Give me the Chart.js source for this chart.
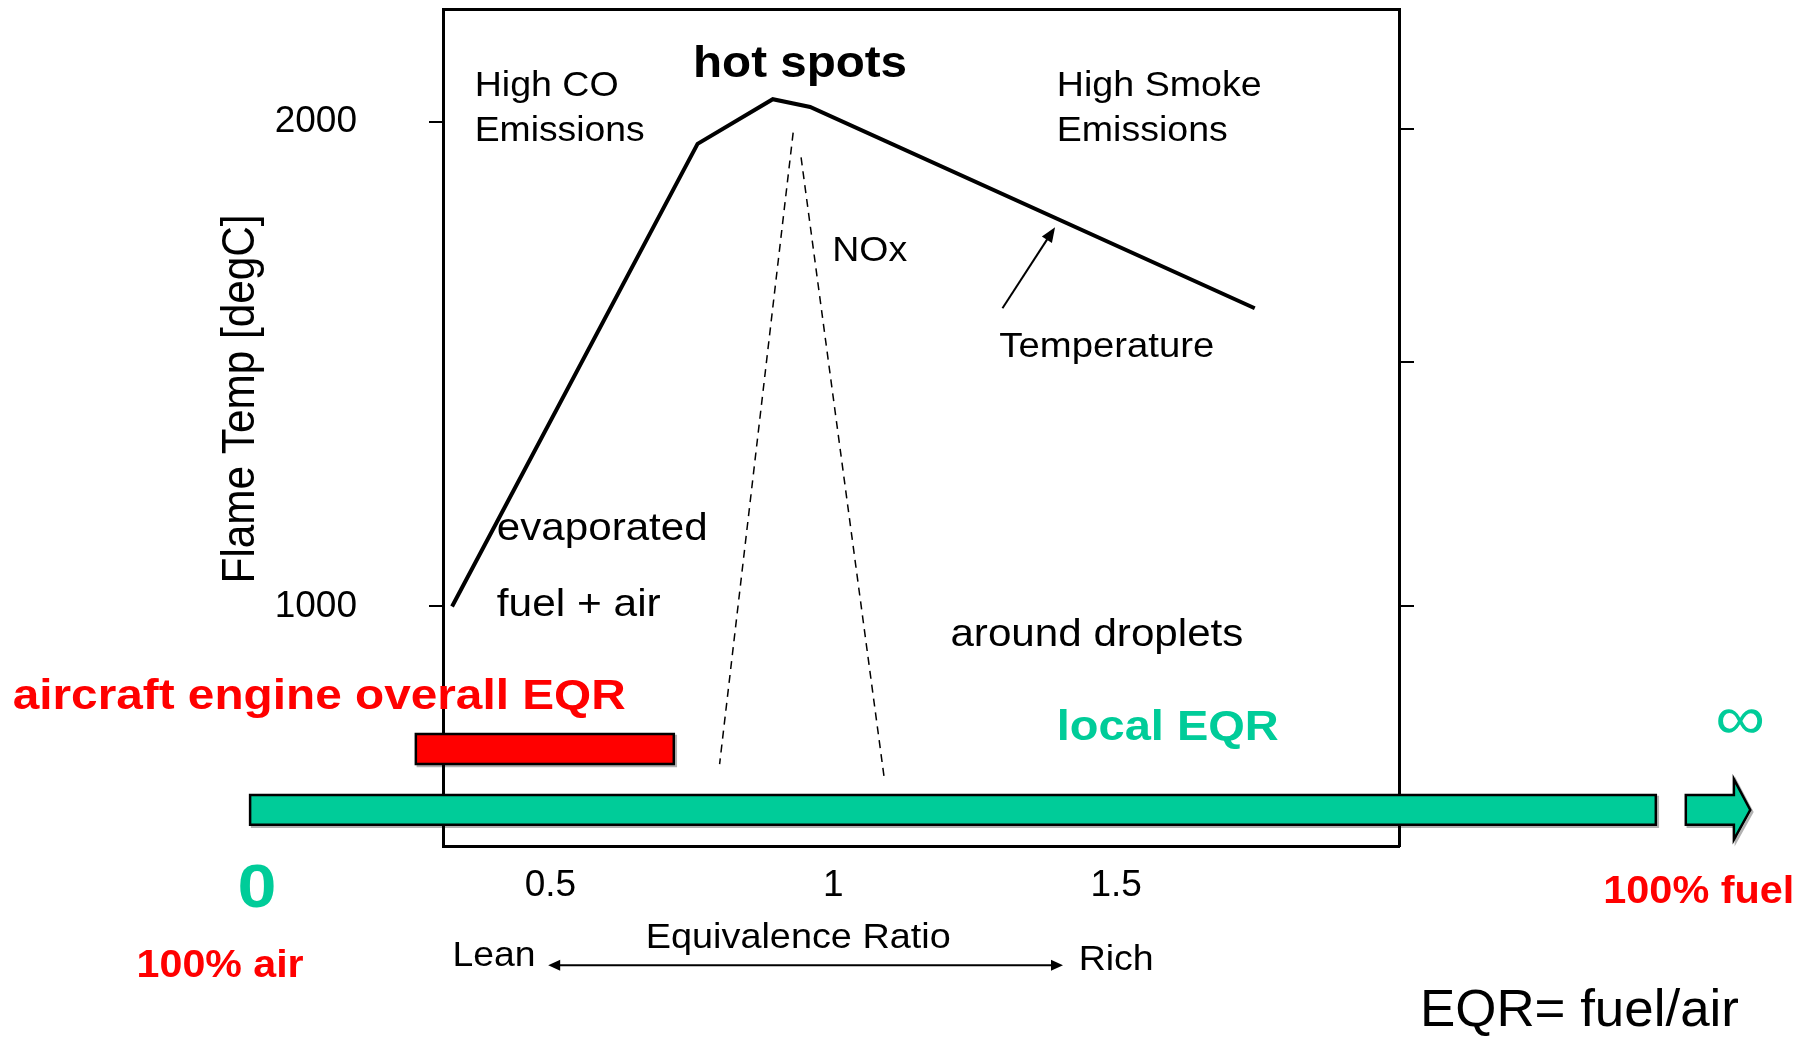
<!DOCTYPE html>
<html>
<head>
<meta charset="utf-8">
<script src="https://cdn.jsdelivr.net/npm/chart.js@4.4.0/dist/chart.umd.min.js"></script>
<style>
html,body{margin:0;padding:0;background:#fff;overflow:hidden}
#wrap{position:relative;width:1818px;height:1037px;background:#fff}
</style>
</head>
<body>
<div id="wrap"><canvas id="c"></canvas></div>
<script>
const FONT = '"Liberation Sans", Arial, Helvetica, sans-serif';
const RED = '#FF0000';
const GREEN = '#00CC99';

// Flame temperature curve: equivalence ratio vs degC
const tempEqr  = [0.326, 0.760, 0.893, 0.959, 1.745];
const tempDegC = [1000, 1954, 2046, 2030, 1615];

// NOx band edges (dashed)
const noxLeftEqr   = [0.929, 0.799];
const noxLeftDegC  = [1977, 675];
const noxRightEqr  = [0.943, 1.090];
const noxRightDegC = [1926, 646];

// Axes
const xRange = [0.31, 2.0];
const yRange = [506, 2232];
const xTickValues = [0.5, 1, 1.5];
const xTickLabels = ['0.5', '1', '1.5'];
const yTickValues = [1000, 2000];
const yTickLabels = ['1000', '2000'];
const yRightTickValues = [1000, 1505, 1985];

// Aircraft engine overall EQR range (red bar)
const overallEqrRange = [0.262, 0.718];
const overallEqrBandDegC = [675, 737];

// Local EQR arrow (0 ... infinity)
const localEqrBar = [-0.031, 2.454];
const localEqrHead = [2.507, 2.592, 2.621];   // shaft start, head base, tip
const localEqrBandDegC = [550, 611];
const localEqrHeadDegC = [519, 644];

// Pointer to the temperature curve, and Lean <-> Rich arrow
const tempPointerEqr = [1.299, 1.392];
const tempPointerDegC = [1615, 1782];
const leanRichEqr = [0.496, 1.406];
const leanRichDegC = [260, 260];

// Annotation texts (anchored in data units)
const notes = [
  {text:'hot spots', x:0.752, y:2116, size:44, bold:true, w:214},
  {text:'High CO', x:0.366, y:2072, size:35, w:144},
  {text:'Emissions', x:0.366, y:1980, size:35, w:170},
  {text:'High Smoke', x:1.395, y:2072, size:35, w:205},
  {text:'Emissions', x:1.395, y:1980, size:35, w:171},
  {text:'NOx', x:0.998, y:1733, size:35, w:75},
  {text:'Temperature', x:1.2935, y:1535, size:35, w:215},
  {text:'evaporated', x:0.405, y:1160, size:39, w:211},
  {text:'fuel + air', x:0.405, y:1003, size:39, w:164},
  {text:'around droplets', x:1.207, y:940, size:39, w:293},
  {text:'aircraft engine overall EQR', x:-0.4507, y:813, size:43, bold:true, color:RED, w:613},
  {text:'local EQR', x:1.395, y:750, size:43, bold:true, color:GREEN, w:222},
  {text:'\u221E', x:2.603, y:762, size:62, color:GREEN, align:'center'},
  {text:'0', x:-0.019, y:416, size:62, bold:true, color:GREEN, align:'center'},
  {text:'100% fuel', x:2.530, y:411, size:38, bold:true, color:RED, align:'center', w:191},
  {text:'100% air', x:-0.084, y:257, size:38, bold:true, color:RED, align:'center', w:167},
  {text:'Equivalence Ratio', x:0.938, y:316, size:35, align:'center', w:305},
  {text:'Lean', x:0.400, y:278, size:35, align:'center', w:83},
  {text:'Rich', x:1.500, y:271, size:35, align:'center', w:75},
  {text:'EQR= fuel/air', x:2.319, y:164, size:52, align:'center', w:319},
  {text:'Flame Temp [degC]', x:-0.047, y:1428, size:42, align:'center', rotate:true, w:369}
];

const pts = (xs, ys) => xs.map((x, i) => ({x, y: ys[i]}));

function drawText(ctx, t, px, py) {
  ctx.save();
  ctx.font = (t.bold ? 'bold ' : '') + t.size + 'px ' + FONT;
  ctx.fillStyle = t.color || '#000';
  ctx.textBaseline = 'middle';
  ctx.textAlign = t.align || 'left';
  const m = ctx.measureText(t.text).width;
  const s = t.w ? t.w / m : 1.13;
  ctx.translate(px, py);
  if (t.rotate) {
    ctx.rotate(-Math.PI / 2);
    ctx.scale(s, 1.1);
  } else {
    ctx.scale(s, 1);
  }
  ctx.fillText(t.text, 0, 0);
  ctx.restore();
}

function shape(ctx, p, fill) {
  const path = () => {
    ctx.beginPath();
    p.forEach((q, i) => i ? ctx.lineTo(q[0], q[1]) : ctx.moveTo(q[0], q[1]));
    ctx.closePath();
  };
  ctx.save();
  ctx.translate(2, 2);
  path();
  ctx.strokeStyle = 'rgba(0,0,0,0.3)';
  ctx.lineWidth = 2.5;
  ctx.stroke();
  ctx.restore();
  path();
  ctx.fillStyle = fill;
  ctx.fill();
  ctx.strokeStyle = '#000';
  ctx.lineWidth = 2.5;
  ctx.lineJoin = 'miter';
  ctx.stroke();
}

function head(ctx, x1, y1, x2, y2, len, half) {
  const a = Math.atan2(y2 - y1, x2 - x1);
  const c = Math.cos(a), s = Math.sin(a);
  ctx.beginPath();
  ctx.moveTo(x2, y2);
  ctx.lineTo(x2 - len * c + half * s, y2 - len * s - half * c);
  ctx.lineTo(x2 - len * c - half * s, y2 - len * s + half * c);
  ctx.closePath();
  ctx.fill();
}

const overlay = {
  id: 'overlay',
  afterDraw(chart) {
    const ctx = chart.ctx;
    const X = v => chart.scales.x.getPixelForValue(v);
    const Y = v => chart.scales.y.getPixelForValue(v);
    ctx.save();

    // local EQR bar + separate arrow head
    shape(ctx, [
      [X(localEqrBar[0]), Y(localEqrBandDegC[1])],
      [X(localEqrBar[1]), Y(localEqrBandDegC[1])],
      [X(localEqrBar[1]), Y(localEqrBandDegC[0])],
      [X(localEqrBar[0]), Y(localEqrBandDegC[0])]
    ], GREEN);
    const midDeg = (localEqrBandDegC[0] + localEqrBandDegC[1]) / 2;
    shape(ctx, [
      [X(localEqrHead[0]), Y(localEqrBandDegC[1])],
      [X(localEqrHead[1]), Y(localEqrBandDegC[1])],
      [X(localEqrHead[1]), Y(localEqrHeadDegC[1])],
      [X(localEqrHead[2]), Y(midDeg)],
      [X(localEqrHead[1]), Y(localEqrHeadDegC[0])],
      [X(localEqrHead[1]), Y(localEqrBandDegC[0])],
      [X(localEqrHead[0]), Y(localEqrBandDegC[0])]
    ], GREEN);

    // overall EQR red bar
    shape(ctx, [
      [X(overallEqrRange[0]), Y(overallEqrBandDegC[1])],
      [X(overallEqrRange[1]), Y(overallEqrBandDegC[1])],
      [X(overallEqrRange[1]), Y(overallEqrBandDegC[0])],
      [X(overallEqrRange[0]), Y(overallEqrBandDegC[0])]
    ], RED);

    // pointer arrow to temperature curve
    ctx.strokeStyle = '#000';
    ctx.fillStyle = '#000';
    ctx.lineWidth = 2;
    let x1 = X(tempPointerEqr[0]), y1 = Y(tempPointerDegC[0]);
    let x2 = X(tempPointerEqr[1]), y2 = Y(tempPointerDegC[1]);
    ctx.beginPath(); ctx.moveTo(x1, y1); ctx.lineTo(x1 + (x2 - x1) * 0.85, y1 + (y2 - y1) * 0.85); ctx.stroke();
    head(ctx, x1, y1, x2, y2, 15, 6);

    // Lean <-> Rich
    x1 = X(leanRichEqr[0]); y1 = Y(leanRichDegC[0]);
    x2 = X(leanRichEqr[1]); y2 = Y(leanRichDegC[1]);
    ctx.beginPath(); ctx.moveTo(x1 + 8, y1); ctx.lineTo(x2 - 8, y2); ctx.stroke();
    head(ctx, x1, y1, x2, y2, 12, 5.5);
    head(ctx, x2, y2, x1, y1, 12, 5.5);

    notes.forEach(t => drawText(ctx, t, X(t.x), Y(t.y)));
    ctx.restore();
  }
};

const tickFont = {family: FONT, size: 37};

new Chart(document.getElementById('c'), {
  type: 'scatter',
  data: {
    datasets: [
      {label: 'Temperature', data: pts(tempEqr, tempDegC), showLine: true, borderColor: '#000',
       borderWidth: 4, pointRadius: 0, tension: 0, fill: false},
      {label: 'NOx lean edge', data: pts(noxLeftEqr, noxLeftDegC), showLine: true, borderColor: '#000',
       borderWidth: 1.5, borderDash: [8, 6], pointRadius: 0, fill: false},
      {label: 'NOx rich edge', data: pts(noxRightEqr, noxRightDegC), showLine: true, borderColor: '#000',
       borderWidth: 1.5, borderDash: [8, 6], pointRadius: 0, fill: false}
    ]
  },
  options: {
    responsive: true,
    maintainAspectRatio: false,
    animation: false,
    layout: {padding: 0},
    plugins: {legend: {display: false}, tooltip: {enabled: false}, title: {display: false}},
    scales: {
      x: {
        type: 'linear', position: 'bottom', min: xRange[0], max: xRange[1],
        afterBuildTicks: s => { s.ticks = xTickValues.map(v => ({value: v})); },
        afterFit: s => { s.height = 191; s.paddingLeft = 0; s.paddingRight = 0; },
        grid: {display: false, drawTicks: false},
        border: {display: true, color: '#000', width: 3},
        ticks: {padding: 18, color: '#000', font: tickFont, maxRotation: 0, autoSkip: false,
                callback: (v, i) => xTickLabels[i]}
      },
      xTop: {
        type: 'linear', position: 'top', min: xRange[0], max: xRange[1],
        afterFit: s => { s.height = 9; s.paddingLeft = 0; s.paddingRight = 0; },
        grid: {display: false, drawTicks: false},
        border: {display: true, color: '#000', width: 3},
        ticks: {display: false}
      },
      y: {
        type: 'linear', position: 'left', min: yRange[0], max: yRange[1],
        afterBuildTicks: s => { s.ticks = yTickValues.map(v => ({value: v})); },
        afterFit: s => { s.width = 443; s.paddingTop = 0; s.paddingBottom = 0; },
        grid: {display: true, drawOnChartArea: false, drawTicks: true, tickLength: 14, color: '#000', lineWidth: 2},
        border: {display: true, color: '#000', width: 3},
        ticks: {padding: 72, color: '#000', font: tickFont, callback: (v, i) => yTickLabels[i]}
      },
      yRight: {
        type: 'linear', position: 'right', min: yRange[0], max: yRange[1],
        afterBuildTicks: s => { s.ticks = yRightTickValues.map(v => ({value: v})); },
        afterFit: s => { s.width = 419; s.paddingTop = 0; s.paddingBottom = 0; },
        grid: {display: true, drawOnChartArea: false, drawTicks: true, tickLength: 15, color: '#000', lineWidth: 2},
        border: {display: true, color: '#000', width: 3},
        ticks: {display: false}
      }
    }
  },
  plugins: [overlay]
});
</script>
</body>
</html>
